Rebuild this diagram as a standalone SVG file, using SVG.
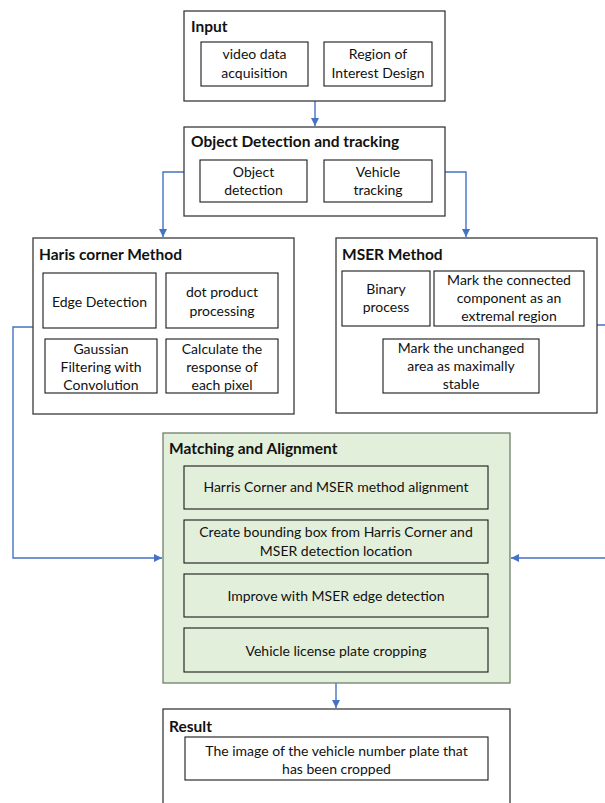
<svg xmlns="http://www.w3.org/2000/svg" width="605" height="803" viewBox="0 0 605 803">
<style>
.outer{fill:#ffffff;stroke:#3a3a3a;stroke-width:1.3}
.inner{fill:#ffffff;stroke:#1a1a1a;stroke-width:1.1}
.gouter{fill:#e2efda;stroke:#6f7f6a;stroke-width:1.3}
.ginner{fill:#e2efda;stroke:#1a1a1a;stroke-width:1.1}
.t{font-family:Lato,"Liberation Sans",sans-serif;font-size:14px;fill:#111;text-anchor:middle}
.h{font-family:Lato,"Liberation Sans",sans-serif;font-size:15.5px;font-weight:bold;fill:#111}
.c{fill:none;stroke:#4472c4;stroke-width:1.4}
</style>
<defs>
<marker id="ah" viewBox="0 0 10 10" refX="10" refY="5" markerWidth="8" markerHeight="8" markerUnits="userSpaceOnUse" orient="auto">
<path d="M0,0 L10,5 L0,10 z" fill="#4472c4"/>
</marker>
</defs>
<g id="connectors">
<path class="c" d="M315,101 V126" marker-end="url(#ah)"/>
<path class="c" d="M184,172 H163 V237" marker-end="url(#ah)"/>
<path class="c" d="M445,172 H466 V237" marker-end="url(#ah)"/>
<path class="c" d="M33,327 H13 V558 H162" marker-end="url(#ah)"/>
<path class="c" d="M597,325 H605 M605,558 H511" marker-end="url(#ah)"/>
<path class="c" d="M336,683 V708" marker-end="url(#ah)"/>
</g>
<g id="input">
<rect class="outer" x="184" y="11" width="261" height="90"/>
<text class="h" x="191" y="32">Input</text>
<rect class="inner" x="201" y="42" width="107" height="44"/>
<text class="t" x="254.5" y="59">video data</text>
<text class="t" x="254.5" y="78">acquisition</text>
<rect class="inner" x="324" y="42" width="108" height="44"/>
<text class="t" x="378" y="59">Region of</text>
<text class="t" x="378" y="78">Interest Design</text>
</g>
<g id="object-detection">
<rect class="outer" x="184" y="127" width="261" height="89"/>
<text class="h" x="191" y="147">Object Detection and tracking</text>
<rect class="inner" x="200" y="160" width="107" height="42"/>
<text class="t" x="253.5" y="177">Object</text>
<text class="t" x="253.5" y="195">detection</text>
<rect class="inner" x="324" y="160" width="108" height="42"/>
<text class="t" x="378" y="177">Vehicle</text>
<text class="t" x="378" y="195">tracking</text>
</g>
<g id="haris">
<rect class="outer" x="33" y="238" width="261" height="176"/>
<text class="h" x="39" y="260">Haris corner Method</text>
<rect class="inner" x="43" y="273" width="113" height="55"/>
<text class="t" x="99.5" y="307">Edge Detection</text>
<rect class="inner" x="166" y="273" width="112" height="55"/>
<text class="t" x="222" y="297">dot product</text>
<text class="t" x="222" y="316">processing</text>
<rect class="inner" x="45" y="339" width="112" height="54"/>
<text class="t" x="101" y="354">Gaussian</text>
<text class="t" x="101" y="372">Filtering with</text>
<text class="t" x="101" y="390">Convolution</text>
<rect class="inner" x="166" y="339" width="112" height="54"/>
<text class="t" x="222" y="354">Calculate the</text>
<text class="t" x="222" y="372">response of</text>
<text class="t" x="222" y="390">each pixel</text>
</g>
<g id="mser">
<rect class="outer" x="336" y="238" width="261" height="175"/>
<text class="h" x="342" y="260">MSER Method</text>
<rect class="inner" x="342" y="271" width="88" height="55"/>
<text class="t" x="386" y="294">Binary</text>
<text class="t" x="386" y="312">process</text>
<rect class="inner" x="434" y="271" width="150" height="55"/>
<text class="t" x="509" y="285">Mark the connected</text>
<text class="t" x="509" y="303">component as an</text>
<text class="t" x="509" y="321">extremal region</text>
<rect class="inner" x="383" y="339" width="156" height="54"/>
<text class="t" x="461" y="353">Mark the unchanged</text>
<text class="t" x="461" y="371">area as maximally</text>
<text class="t" x="461" y="389">stable</text>
</g>
<g id="matching">
<rect class="gouter" x="163" y="433" width="347" height="250"/>
<text class="h" x="169" y="454">Matching and Alignment</text>
<rect class="ginner" x="184" y="466" width="304" height="43"/>
<text class="t" x="336" y="492">Harris Corner and MSER method alignment</text>
<rect class="ginner" x="184" y="520" width="304" height="43"/>
<text class="t" x="336" y="537">Create bounding box from Harris Corner and</text>
<text class="t" x="336" y="556">MSER detection location</text>
<rect class="ginner" x="184" y="574" width="304" height="43"/>
<text class="t" x="336" y="601">Improve with MSER edge detection</text>
<rect class="ginner" x="184" y="628" width="304" height="44"/>
<text class="t" x="336" y="656">Vehicle license plate cropping</text>
</g>
<g id="result">
<rect class="outer" x="163" y="709" width="347" height="110"/>
<text class="h" x="169" y="732">Result</text>
<rect class="inner" x="185" y="737" width="303" height="43"/>
<text class="t" x="336.5" y="756">The image of the vehicle number plate that</text>
<text class="t" x="336.5" y="774">has been cropped</text>
</g>
</svg>
